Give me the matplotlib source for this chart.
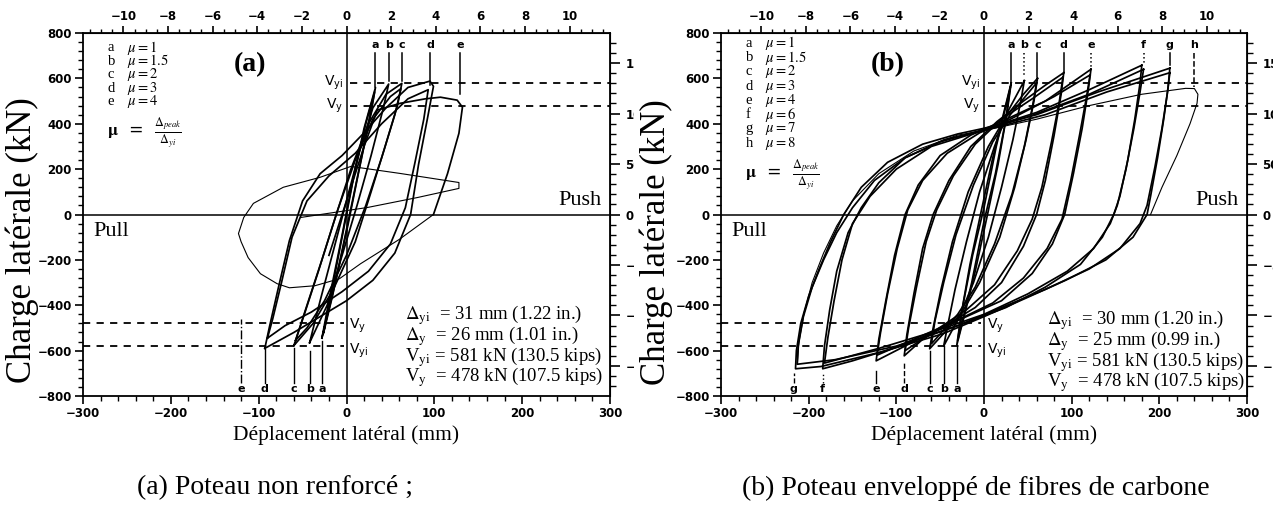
import matplotlib
matplotlib.use('Agg')
import matplotlib.pyplot as plt
from matplotlib.ticker import MultipleLocator
from matplotlib.transforms import Bbox, TransformedBbox

plt.rcParams['mathtext.fontset'] = 'stix'
plt.rcParams['font.family'] = 'DejaVu Sans'
SERIF = 'Liberation Serif'

# ---------------- data (mm, kN) ----------------
# (a) poteau non renforcé
a_mu1_c1 = [(-28, -545), (-18, -340), (-6, -110), (6, 130), (20, 380), (33, 560), (27, 430), (14, 190), (2, -40), (-12, -290), (-28, -545)]
a_mu1_c2 = [(-26, -520), (-14, -280), (-2, -40), (10, 200), (22, 400), (32, 540), (24, 380), (10, 120), (-4, -140), (-16, -360), (-26, -520)]
a_mu15 = [(-42, -565), (-30, -380), (-15, -160), (0, 60), (15, 280), (30, 470), (48, 575), (42, 470), (28, 260), (12, 40), (-5, -180), (-22, -400), (-42, -565)]
a_mu2_c1 = [(-60, -578), (-48, -440), (-32, -250), (-15, -40), (5, 200), (25, 400), (45, 530), (63, 578), (58, 480), (44, 300), (28, 100), (10, -120), (-15, -330), (-38, -480), (-60, -578)]
a_mu2_c2 = [(-58, -555), (-45, -400), (-28, -200), (-10, 20), (10, 240), (30, 420), (50, 520), (62, 555), (55, 440), (40, 250), (22, 40), (0, -180), (-25, -380), (-45, -500), (-58, -555)]
a_mu3_c1 = [(-93, -590), (-88, -500), (-78, -330), (-65, -115), (-50, 60), (-30, 180), (-5, 260), (20, 360), (45, 470), (70, 560), (95, 588), (99, 565), (92, 420), (82, 220), (73, 0), (55, -170), (30, -290), (0, -380), (-30, -450), (-60, -520), (-93, -590)]
a_mu3_c2 = [(-90, -545), (-84, -460), (-74, -300), (-62, -100), (-45, 60), (-20, 170), (10, 270), (40, 400), (70, 510), (93, 550), (88, 420), (78, 230), (67, 30), (50, -130), (25, -250), (-5, -340), (-40, -430), (-70, -490), (-90, -545)]
a_mu4_thick = [(-20, -180), (0, 60), (20, 300), (35, 460), (61, 490), (90, 510), (107, 517), (126, 504), (132, 473), (128, 358), (115, 180), (99, 0)]
a_mu4_thin = [(99, 0), (60, -110), (16, -217), (-8, -283), (-36, -314), (-65, -323), (-79, -305), (-98, -261), (-112, -190), (-120, -120), (-123, -84), (-117, -13), (-106, 49), (-72, 120), (-30, 164), (5, 212), (61, 181), (128, 141), (128, 115), (81, 75), (24, 31), (-52, -13)]
a_loops_thick = [a_mu1_c1, a_mu1_c2, a_mu15, a_mu2_c1, a_mu2_c2, a_mu3_c1, a_mu3_c2, a_mu4_thick]
a_loops_thin = [a_mu4_thin]

a_legend = ['a', 'b', 'c', 'd', 'e']
a_mu = ['1', '1.5', '2', '3', '4']
a_top_x = [33, 48, 63, 95, 129]
a_top_end = [560, 590, 590, 570, 530]
a_top_ls = ['-', '-', '-', '-', '-']
a_bot_letters = ['e', 'd', 'c', 'b', 'a']
a_bot_x = [-120, -93, -60, -42, -28]
a_bot_end = [-460, -595, -590, -600, -557]
a_bot_ls = ['-.', '-', '-', '-', '-']
a_info = [r'$\Delta_{\rm yi}$  = 31 mm (1.22 in.)', r'$\Delta_{\rm y}$  = 26 mm (1.01 in.)',
          r'V$_{\rm yi}$ = 581 kN (130.5 kips)', r'V$_{\rm y}$  = 478 kN (107.5 kips)']

# (b) poteau enveloppé de fibres de carbone
b_mu1_c1 = [(31, 580), (26, 440), (16, 220), (4, 0), (-10, -250), (-22, -440), (-31, -575), (-26, -440), (-16, -220), (-4, 0), (10, 250), (22, 440), (31, 580)]
b_mu1_c2 = [(30, 560), (24, 400), (13, 180), (0, -30), (-14, -300), (-30, -555), (-24, -400), (-13, -180), (0, 30), (14, 300), (30, 560)]
b_mu15 = [(46, 590), (42, 500), (33, 330), (20, 120), (5, -100), (-12, -300), (-28, -450), (-46, -580), (-42, -500), (-33, -330), (-20, -120), (-5, 100), (12, 300), (28, 460), (46, 590)]
b_mu2_c1 = [(61, 600), (57, 500), (48, 330), (35, 120), (18, -100), (-5, -300), (-25, -430), (-45, -520), (-62, -592), (-58, -500), (-49, -330), (-36, -120), (-18, 100), (5, 300), (25, 430), (45, 530), (61, 600)]
b_mu2_c2 = [(60, 580), (55, 470), (46, 300), (32, 90), (12, -130), (-10, -320), (-30, -440), (-60, -570), (-56, -470), (-46, -300), (-32, -90), (-12, 130), (10, 320), (30, 440), (60, 580)]
b_mu3_c1 = [(91, 625), (88, 530), (80, 350), (70, 150), (60, 0), (45, -140), (20, -300), (-10, -410), (-40, -480), (-70, -550), (-91, -623), (-88, -530), (-80, -350), (-70, -150), (-58, 0), (-40, 150), (-15, 300), (15, 410), (45, 500), (70, 570), (91, 625)]
b_mu3_c2 = [(90, 605), (86, 500), (77, 320), (66, 120), (55, -20), (38, -160), (12, -310), (-20, -420), (-55, -510), (-90, -600), (-86, -500), (-77, -320), (-66, -120), (-54, 20), (-35, 170), (-10, 310), (20, 420), (55, 510), (90, 605)]
b_mu4_c1 = [(122, 640), (119, 550), (112, 380), (102, 180), (92, 0), (78, -130), (55, -260), (20, -380), (-20, -450), (-70, -540), (-123, -645), (-120, -550), (-112, -380), (-102, -180), (-90, 0), (-75, 130), (-50, 260), (-15, 350), (20, 410), (70, 500), (122, 640)]
b_mu4_c2 = [(121, 615), (117, 520), (109, 350), (99, 150), (89, -20), (72, -150), (45, -280), (10, -390), (-30, -465), (-80, -550), (-122, -620), (-118, -520), (-110, -350), (-99, -150), (-87, 20), (-70, 150), (-42, 270), (-5, 360), (30, 420), (80, 520), (121, 615)]
b_mu6_c1 = [(180, 658), (178, 580), (172, 420), (164, 240), (155, 80), (148, 0), (135, -100), (110, -220), (70, -320), (25, -410), (-30, -490), (-100, -585), (-150, -645), (-184, -680), (-182, -580), (-176, -420), (-168, -250), (-155, -80), (-140, 30), (-120, 140), (-90, 250), (-50, 320), (0, 375), (60, 450), (120, 550), (180, 658)]
b_mu6_c2 = [(182, 640), (178, 540), (171, 380), (162, 200), (152, 40), (144, -40), (125, -150), (95, -250), (50, -350), (0, -440), (-60, -520), (-120, -590), (-182, -655), (-178, -540), (-171, -380), (-162, -200), (-150, -40), (-130, 80), (-100, 200), (-60, 300), (-10, 360), (50, 430), (120, 530), (182, 640)]
b_mu7_c1 = [(212, 645), (210, 560), (205, 420), (198, 250), (190, 80), (186, 0), (170, -100), (139, -200), (93, -290), (47, -370), (0, -450), (-47, -526), (-116, -605), (-186, -670), (-215, -680), (-214, -600), (-209, -480), (-200, -360), (-188, -240), (-175, -120), (-160, 0), (-140, 120), (-110, 230), (-70, 310), (-30, 355), (0, 380), (60, 440), (130, 540), (212, 645)]
b_mu7_c2 = [(212, 625), (209, 530), (203, 380), (195, 210), (186, 40), (178, -40), (155, -150), (120, -240), (70, -330), (20, -410), (-30, -490), (-100, -580), (-170, -640), (-213, -660), (-212, -580), (-206, -450), (-196, -320), (-183, -200), (-168, -80), (-150, 30), (-125, 150), (-90, 250), (-45, 330), (0, 370), (70, 440), (140, 540), (212, 625)]
b_mu8 = [(-213, -660), (-211, -560), (-205, -430), (-196, -300), (-183, -170), (-168, -50), (-150, 60), (-120, 180), (-80, 280), (-30, 350), (0, 370), (60, 420), (120, 480), (180, 530), (230, 556), (240, 555), (244, 530), (243, 490), (235, 400), (220, 260), (203, 120), (190, 0)]
b_loops_thick = [b_mu1_c1, b_mu1_c2, b_mu15, b_mu2_c1, b_mu2_c2, b_mu3_c1, b_mu3_c2, b_mu4_c1, b_mu4_c2,
                 b_mu6_c1, b_mu6_c2, b_mu7_c1, b_mu7_c2]
b_loops_thin = [b_mu8]

b_legend = ['a', 'b', 'c', 'd', 'e', 'f', 'g', 'h']
b_mu = ['1', '1.5', '2', '3', '4', '6', '7', '8']
b_top_x = [31, 46, 61, 91, 122, 182, 212, 240]
b_top_end = [580, 606, 606, 628, 650, 668, 659, 562]
b_top_ls = ['-', ':', '-', '-', ':', ':', '-', '--']
b_bot_letters = ['g', 'f', 'e', 'd', 'c', 'b', 'a']
b_bot_x = [-217, -184, -123, -91, -62, -46, -31]
b_bot_end = [-698, -700, -690, -645, -600, -580, -575]
b_bot_ls = ['--', ':', '-', '--', '-', '-', '-']
b_info = [r'$\Delta_{\rm yi}$  = 30 mm (1.20 in.)', r'$\Delta_{\rm y}$  = 25 mm (0.99 in.)',
          r'V$_{\rm yi}$ = 581 kN (130.5 kips)', r'V$_{\rm y}$  = 478 kN (107.5 kips)']

V_yi = 581
V_y = 478

fig = plt.figure(figsize=(12.73, 5.13), dpi=100)


def panel(rect, tag, thick, thin, legend, mus, top_x, top_end, top_ls,
          bot_letters, bot_x, bot_end, bot_ls, info, info_xy, leg_top, leg_step,
          clip_right=None):
    ax = fig.add_axes(rect)
    ax.set_xlim(-300, 300)
    ax.set_ylim(-800, 800)
    ax.set_xticks(range(-300, 301, 100))
    ax.set_yticks(range(-800, 801, 200))
    ax.xaxis.set_minor_locator(MultipleLocator(20))
    ax.yaxis.set_minor_locator(MultipleLocator(40))
    ax.tick_params(which='major', direction='out', length=6, width=1.2, labelsize=8.5, pad=2)
    ax.tick_params(which='minor', direction='out', length=3.5, width=1.0)
    for lab in ax.get_xticklabels() + ax.get_yticklabels():
        lab.set_fontweight('bold')
    for s in ax.spines.values():
        s.set_linewidth(1.3)

    top = ax.secondary_xaxis('top', functions=(lambda v: v / 25.4, lambda v: v * 25.4))
    top.set_xticks(range(-10, 11, 2))
    top.xaxis.set_minor_locator(MultipleLocator(0.5))
    top.tick_params(which='major', direction='out', length=5, width=1.2, labelsize=8.5, pad=2)
    top.tick_params(which='minor', direction='out', length=3, width=1.0)
    for lab in top.get_xticklabels():
        lab.set_fontweight('bold')

    right = ax.secondary_yaxis('right', functions=(lambda v: v / 4.448, lambda v: v * 4.448))
    right.set_yticks(range(-150, 151, 50))
    right.yaxis.set_minor_locator(MultipleLocator(10))
    right.tick_params(which='major', direction='out', length=7, width=1.2, labelsize=8.5, pad=4)
    right.tick_params(which='minor', direction='out', length=4, width=1.0)
    for lab in right.get_yticklabels():
        lab.set_fontweight('bold')
        if clip_right is not None:
            lab.set_clip_box(TransformedBbox(Bbox([[0, 0], [clip_right, 1]]), fig.transFigure))
            lab.set_clip_on(True)

    ax.axhline(0, color='k', lw=1.1)
    ax.axvline(0, color='k', lw=1.1)

    for loop in thick:
        ax.plot([p[0] for p in loop], [p[1] for p in loop], color='k', lw=1.25)
    for loop in thin:
        ax.plot([p[0] for p in loop], [p[1] for p in loop], color='k', lw=0.8)

    dash = (0, (4, 3.5))
    ax.plot([4, 300], [V_yi, V_yi], color='k', lw=1.3, ls=dash)
    ax.plot([4, 300], [V_y, V_y], color='k', lw=1.3, ls=dash)
    ax.plot([-300, -3], [-V_y, -V_y], color='k', lw=1.3, ls=dash)
    ax.plot([-300, -3], [-V_yi, -V_yi], color='k', lw=1.3, ls=dash)
    ax.text(-4, V_yi, r'V$_{\rm yi}$', ha='right', va='center', fontsize=10, math_fontfamily='dejavusans')
    ax.text(-4, V_y, r'V$_{\rm y}$', ha='right', va='center', fontsize=10, math_fontfamily='dejavusans')
    ax.text(3, -V_y - 12, r'V$_{\rm y}$', ha='left', va='center', fontsize=10, math_fontfamily='dejavusans')
    ax.text(3, -V_yi - 20, r'V$_{\rm yi}$', ha='left', va='center', fontsize=10, math_fontfamily='dejavusans')

    for lt, x, e, ls in zip(legend[:len(top_x)], top_x, top_end, top_ls):
        ax.plot([x, x], [712, e], color='k', lw=1.1, ls=ls)
        ax.text(x, 745, lt, ha='center', va='center', fontsize=8, fontweight='bold')
    for lt, x, e, ls in zip(bot_letters, bot_x, bot_end, bot_ls):
        ax.plot([x, x], [-742, e], color='k', lw=1.0, ls=ls)
        ax.text(x, -768, lt, ha='center', va='center', fontsize=8, fontweight='bold')

    for i, (lt, m) in enumerate(zip(legend, mus)):
        yy = leg_top - i * leg_step
        ax.text(-272, yy, lt, ha='left', va='center', fontsize=10.5, family=SERIF)
        ax.text(-250, yy, r'$\mu = %s$' % m, ha='left', va='center', fontsize=10.5)
    yf = leg_top - (len(legend) - 1) * leg_step - 137
    ax.text(-273, yf, r'$\mathbf{\mu}$  =  $\frac{\Delta_{peak}}{\Delta_{yi}}$', ha='left', va='center', fontsize=12.5)

    ax.text(-110, 660, tag, ha='center', va='center', fontsize=20, fontweight='bold', family=SERIF)
    ax.text(290, 62, 'Push', ha='right', va='center', fontsize=16, family=SERIF)
    ax.text(-288, -75, 'Pull', ha='left', va='center', fontsize=16, family=SERIF)

    for i, s in enumerate(info):
        ax.text(info_xy[0], info_xy[1] - i * 91, s, ha='left', va='center', fontsize=13.5, family=SERIF)

    ax.set_xlabel('Déplacement latéral (mm)', family=SERIF, fontsize=15.5, labelpad=4)
    return ax


ax_a = panel([83 / 1273, 1 - 396 / 513, 527 / 1273, 363 / 513], '(a)', a_loops_thick, a_loops_thin,
             a_legend, a_mu, a_top_x, a_top_end, a_top_ls, a_bot_letters, a_bot_x, a_bot_end, a_bot_ls,
             a_info, (67, -445), 736, 60, clip_right=634 / 1273)
ax_b = panel([721 / 1273, 1 - 396 / 513, 526 / 1273, 363 / 513], '(b)', b_loops_thick, b_loops_thin,
             b_legend, b_mu, b_top_x, b_top_end, b_top_ls, b_bot_letters, b_bot_x, b_bot_end, b_bot_ls,
             b_info, (72, -467), 755, 63)

fig.text(22 / 1273, 1 - 240 / 513, 'Charge latérale (kN)', rotation=90, ha='center', va='center',
         family=SERIF, fontsize=25)
fig.text(656 / 1273, 1 - 242 / 513, 'Charge latérale (kN)', rotation=90, ha='center', va='center',
         family=SERIF, fontsize=25)
fig.text(137 / 1273, 1 - 488 / 513, '(a) Poteau non renforcé ;', ha='left', va='center',
         family=SERIF, fontsize=20)
fig.text(742 / 1273, 1 - 488 / 513, '(b) Poteau enveloppé de fibres de carbone', ha='left', va='center',
         family=SERIF, fontsize=20)

fig.savefig('out.png', dpi=100)
